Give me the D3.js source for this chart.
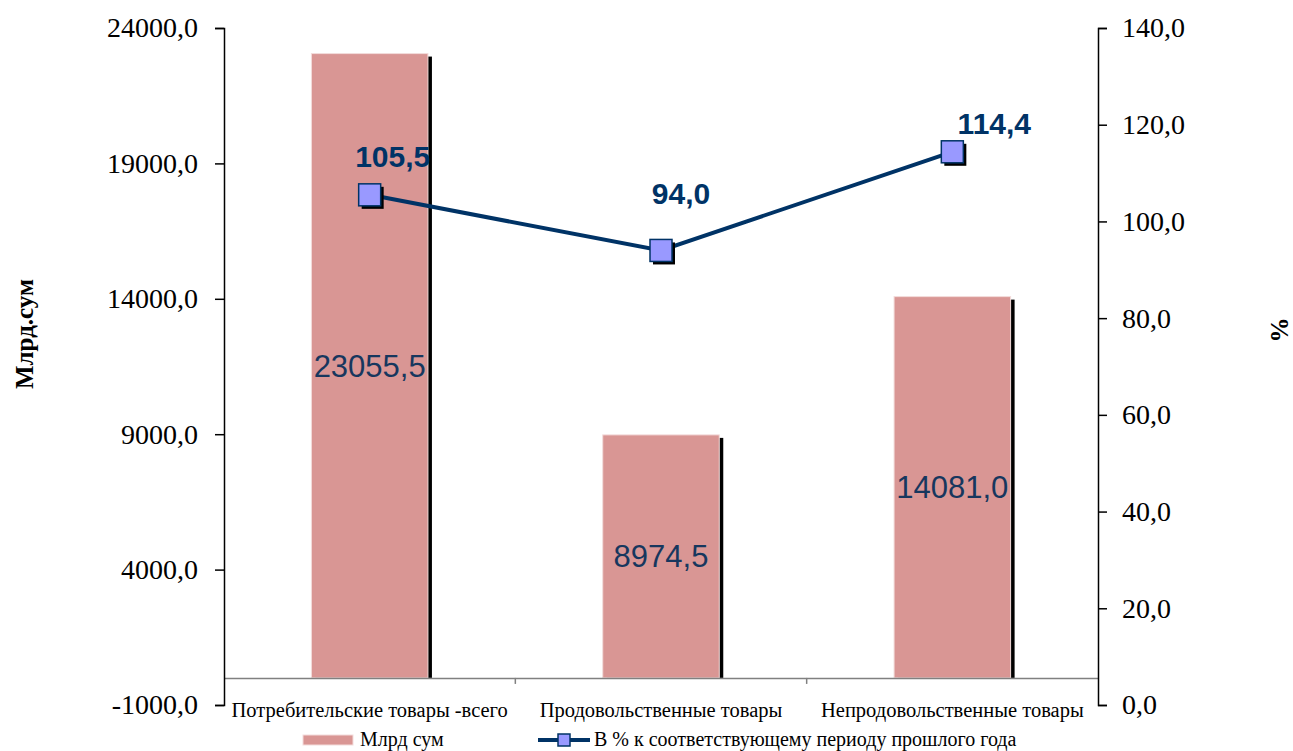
<!DOCTYPE html>
<html>
<head>
<meta charset="utf-8">
<script src="https://cdn.jsdelivr.net/npm/d3@7"></script>
<style>
  body { margin: 0; background: #fff; }
</style>
</head>
<body>
<script>
  var categories = ["Потребительские товары -всего", "Продовольственные товары", "Непродовольственные товары"];
  var amounts = [23055.5, 8974.5, 14081.0];
  var percents = [105.5, 94.0, 114.4];
  var leftTicks = [-1000, 4000, 9000, 14000, 19000, 24000];
  var rightTicks = [0, 20, 40, 60, 80, 100, 120, 140];

  var width = 1293, height = 751;
  var margin = {left: 224, right: 1098, top: 28, bottom: 705};
  // hand-placed value labels of the line, as in the original
  var labelShift = [[23, -28], [20, -46], [42, -18]];

  var fmt = function(v) { return d3.format(".1f")(v).replace(".", ",").replace("−", "-"); };

  var svg = d3.select("body").append("svg")
      .attr("width", width)
      .attr("height", height);

  var xScale = d3.scaleBand()
      .domain(categories)
      .range([margin.left, margin.right])
      .padding(0);

  var yLeft = d3.scaleLinear()
      .domain([-1000, 24000])
      .range([margin.bottom, margin.top]);

  var yRight = d3.scaleLinear()
      .domain([0, 140])
      .range([margin.bottom, margin.top]);

  var barW = xScale.bandwidth() * 0.4;

  // bar shadows
  svg.append("g").selectAll("rect")
    .data(amounts)
    .enter().append("rect")
      .attr("x", function(d, i) { return xScale(categories[i]) + (xScale.bandwidth() - barW) / 2 + 4; })
      .attr("y", function(d) { return yLeft(d) + 3; })
      .attr("width", barW)
      .attr("height", function(d) { return yLeft(0) - yLeft(d) - 3; })
      .attr("fill", "#000");

  // bars
  svg.append("g").selectAll("rect")
    .data(amounts)
    .enter().append("rect")
      .attr("x", function(d, i) { return xScale(categories[i]) + (xScale.bandwidth() - barW) / 2; })
      .attr("y", function(d) { return yLeft(d); })
      .attr("width", barW)
      .attr("height", function(d) { return yLeft(0) - yLeft(d); })
      .attr("fill", "#d99694")
      .attr("stroke", "#f3dcdb")
      .attr("stroke-width", 1);

  // category axis at zero
  var xAxis = svg.append("g")
      .attr("transform", "translate(0," + yLeft(0) + ")")
      .call(d3.axisBottom(xScale).tickValues([]).tickSizeOuter(0));
  xAxis.select(".domain").attr("stroke", "#808080").attr("stroke-width", 1.5);
  xAxis.selectAll(".sep")
    .data(categories.slice(1))
    .enter().append("line")
      .attr("class", "sep")
      .attr("x1", function(d) { return xScale(d); })
      .attr("x2", function(d) { return xScale(d); })
      .attr("y1", 0).attr("y2", 6)
      .attr("stroke", "#808080").attr("stroke-width", 1.5);

  // category labels
  svg.append("g").selectAll("text")
    .data(categories)
    .enter().append("text")
      .attr("x", function(d) { return xScale(d) + xScale.bandwidth() / 2; })
      .attr("y", 717)
      .attr("text-anchor", "middle")
      .attr("font-family", "Liberation Serif, serif")
      .attr("font-size", "20.5px")
      .attr("fill", "#000")
      .text(function(d) { return d; });

  // axis-y left
  var gl = svg.append("g")
      .attr("transform", "translate(" + margin.left + ",0)")
      .call(d3.axisLeft(yLeft).tickValues(leftTicks).tickFormat(fmt).tickSize(9).tickSizeOuter(9).tickPadding(17));
  gl.attr("font-family", "Liberation Serif, serif");
  gl.selectAll("text").attr("font-family", "Liberation Serif, serif").attr("font-size", "28px").attr("fill", "#000");
  gl.selectAll("line, path").attr("stroke", "#000").attr("stroke-width", 1.5);

  // axis-y right
  var gr = svg.append("g")
      .attr("transform", "translate(" + margin.right + ",0)")
      .call(d3.axisRight(yRight).tickValues(rightTicks).tickFormat(fmt).tickSize(9).tickSizeOuter(9).tickPadding(15));
  gr.attr("font-family", "Liberation Serif, serif");
  gr.selectAll("text").attr("font-family", "Liberation Serif, serif").attr("font-size", "28px").attr("fill", "#000");
  gr.selectAll("line, path").attr("stroke", "#000").attr("stroke-width", 1.5);

  // axis titles
  svg.append("text")
      .attr("transform", "translate(33,334) rotate(-90)")
      .attr("text-anchor", "middle")
      .attr("font-family", "Liberation Serif, serif")
      .attr("font-weight", "bold")
      .attr("font-size", "25px")
      .text("Млрд.сум");
  svg.append("text")
      .attr("transform", "translate(1288,330) rotate(-90)")
      .attr("text-anchor", "middle")
      .attr("font-family", "Liberation Serif, serif")
      .attr("font-weight", "bold")
      .attr("font-size", "25px")
      .text("%");

  // labels in the bars
  svg.append("g").selectAll("text")
    .data(amounts)
    .enter().append("text")
      .attr("x", function(d, i) { return xScale(categories[i]) + xScale.bandwidth() / 2; })
      .attr("y", function(d) { return (yLeft(d) + yLeft(0)) / 2; })
      .attr("dy", "0.35em")
      .attr("text-anchor", "middle")
      .attr("font-family", "Liberation Sans, Arial, sans-serif")
      .attr("font-size", "31px")
      .attr("fill", "#17375e")
      .text(fmt);

  // line chart
  var line = d3.line()
      .x(function(d, i) { return xScale(categories[i]) + xScale.bandwidth() / 2; })
      .y(function(d) { return yRight(d); });

  svg.append("path")
      .attr("d", line(percents))
      .attr("fill", "none")
      .attr("stroke", "#003366")
      .attr("stroke-width", 4);

  var mk = 22;
  var pts = svg.append("g").selectAll("g")
    .data(percents)
    .enter().append("g")
      .attr("transform", function(d, i) {
        return "translate(" + (xScale(categories[i]) + xScale.bandwidth() / 2) + "," + yRight(d) + ")";
      });
  pts.append("rect")
      .attr("x", -mk / 2 + 3).attr("y", -mk / 2 + 3)
      .attr("width", mk).attr("height", mk)
      .attr("fill", "#000");
  pts.append("rect")
      .attr("x", -mk / 2).attr("y", -mk / 2)
      .attr("width", mk).attr("height", mk)
      .attr("fill", "#9999ff")
      .attr("stroke", "#003366")
      .attr("stroke-width", 1.5);
  pts.append("text")
      .attr("x", function(d, i) { return labelShift[i][0]; })
      .attr("y", function(d, i) { return labelShift[i][1]; })
      .attr("text-anchor", "middle")
      .attr("font-family", "Liberation Sans, Arial, sans-serif")
      .attr("font-weight", "bold")
      .attr("font-size", "30px")
      .attr("fill", "#003366")
      .text(fmt);

  // legend
  var lg = svg.append("g").attr("font-family", "Liberation Serif, serif").attr("font-size", "20px");
  lg.append("rect")
      .attr("x", 303).attr("y", 735).attr("width", 50).attr("height", 10)
      .attr("fill", "#d99694").attr("stroke", "#f3dcdb");
  lg.append("text").attr("x", 360).attr("y", 746).text("Млрд сум");
  lg.append("line")
      .attr("x1", 538).attr("x2", 590).attr("y1", 740).attr("y2", 740)
      .attr("stroke", "#003366").attr("stroke-width", 4);
  lg.append("rect")
      .attr("x", 558).attr("y", 734).attr("width", 12).attr("height", 12)
      .attr("fill", "#9999ff").attr("stroke", "#003366").attr("stroke-width", 1.5);
  lg.append("text").attr("x", 594).attr("y", 746).text("В % к соответствующему периоду прошлого года");
</script>
</body>
</html>
